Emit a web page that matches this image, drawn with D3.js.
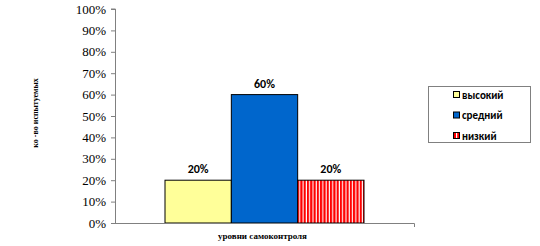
<!DOCTYPE html>
<meta charset="utf-8">
<title>уровни самоконтроля</title>
<style>
  body { margin: 0; background: #fff; }
</style>
<body>
<script src="https://cdn.jsdelivr.net/npm/d3@7"></script>
<script>
    // data
    var categories = ["высокий", "средний", "низкий"];
    var values = [0.2, 0.6, 0.2];
    var yTicks = [0, 0.1, 0.2, 0.3, 0.4, 0.5, 0.6, 0.7, 0.8, 0.9, 1.0];
    var xTitle = "уровни самоконтроля";
    var yTitle = "ко -во испытуемых";

    var width = 540,
        height = 246;

    var svg = d3.select("body").append("svg")
        .attr("width", width)
        .attr("height", height);

    var defs = svg.append("defs");
    var pat = defs.append("pattern")
        .attr("id", "stripes")
        .attr("patternUnits", "userSpaceOnUse")
        .attr("width", 3.3)
        .attr("height", 10);
    pat.append("rect").attr("width", 3.3).attr("height", 10).attr("fill", "#fff");
    pat.append("rect").attr("width", 2.2).attr("height", 10).attr("fill", "#ff0000");

    var fills = ["#ffff99", "#0066cc", "url(#stripes)"];
    var swatch = ["#ffff99", "#0066cc", "#ff0000"];

    var plot = {left: 115, right: 414, top: 9, bottom: 223};

    var y = d3.scaleLinear()
        .domain([0, 1])
        .range([plot.bottom, plot.top]);

    // three series side by side in the one category
    var x1 = d3.scaleBand()
        .domain(categories)
        .range([165, 364]);

    // y axis
    var yAxis = d3.axisLeft(y)
        .tickValues(yTicks)
        .tickSize(4)
        .tickFormat(d3.format(".0%"));

    var gy = svg.append("g")
        .attr("transform", "translate(" + plot.left + ",0)")
        .call(yAxis);
    gy.select(".domain").attr("stroke", "#808080").attr("d", "M-4," + plot.top + "H0.5V" + plot.bottom);
    gy.selectAll(".tick line").attr("stroke", "#808080");
    gy.selectAll(".tick text")
        .attr("x", -9)
        .attr("fill", "#000")
        .style("font-family", "'Liberation Serif', 'Times New Roman', serif")
        .style("font-size", "13px");

    // bars
    svg.selectAll("rect.bar")
        .data(values)
        .join("rect")
        .attr("class", "bar")
        .attr("x", (d, i) => x1(categories[i]))
        .attr("y", d => y(d))
        .attr("width", x1.bandwidth())
        .attr("height", d => y(0) - y(d))
        .attr("fill", (d, i) => fills[i])
        .attr("stroke", "#000")
        .attr("stroke-width", 1);

    // x axis line
    svg.append("path")
        .attr("d", "M" + plot.left + "," + (plot.bottom + 0.5) + "H" + (plot.right + 0.5) + "V" + (plot.bottom + 4))
        .attr("fill", "none")
        .attr("stroke", "#808080");

    // value labels
    svg.selectAll("text.val")
        .data(values)
        .join("text")
        .attr("class", "val")
        .attr("x", (d, i) => x1(categories[i]) + x1.bandwidth() / 2)
        .attr("y", d => y(d) - 7)
        .attr("text-anchor", "middle")
        .style("font-family", "Carlito, 'Open Sans', 'DejaVu Sans', sans-serif")
        .style("font-weight", "bold")
        .style("font-size", "12px")
        .text(d3.format(".0%"));

    // axis titles
    svg.append("text")
        .attr("x", (plot.left + plot.right) / 2 - 2)
        .attr("y", 239)
        .attr("text-anchor", "middle")
        .style("font-family", "'Liberation Serif', 'Times New Roman', serif")
        .style("font-weight", "bold")
        .style("font-size", "9px")
        .text(xTitle);

    svg.append("text")
        .attr("transform", "translate(38,113) rotate(-90)")
        .attr("text-anchor", "middle")
        .style("font-family", "'Liberation Serif', 'Times New Roman', serif")
        .style("font-weight", "bold")
        .style("font-size", "8px")
        .text(yTitle);

    // legend
    var lg = svg.append("g");
    lg.append("rect")
        .attr("x", 428.5).attr("y", 86.5)
        .attr("width", 102).attr("height", 56)
        .attr("fill", "#fff")
        .attr("stroke", "#808080");

    var items = lg.selectAll("g.item")
        .data(categories)
        .join("g")
        .attr("class", "item")
        .attr("transform", (d, i) => "translate(453," + (95 + i * 20.5) + ")");

    items.append("rect")
        .attr("x", 0.5).attr("y", -3.5)
        .attr("width", 6).attr("height", 6)
        .attr("fill", (d, i) => swatch[i])
        .attr("stroke", "#000");
    items.filter((d, i) => i === 2).append("rect")
        .attr("x", 3).attr("y", -3)
        .attr("width", 1.2).attr("height", 5)
        .attr("fill", "#fff");

    items.append("text")
        .attr("x", 9)
        .attr("y", 3.8)
        .style("font-family", "Carlito, 'Open Sans', 'DejaVu Sans', sans-serif")
        .style("font-weight", "bold")
        .style("font-size", "11px")
        .text(d => d);
</script>
</body>
